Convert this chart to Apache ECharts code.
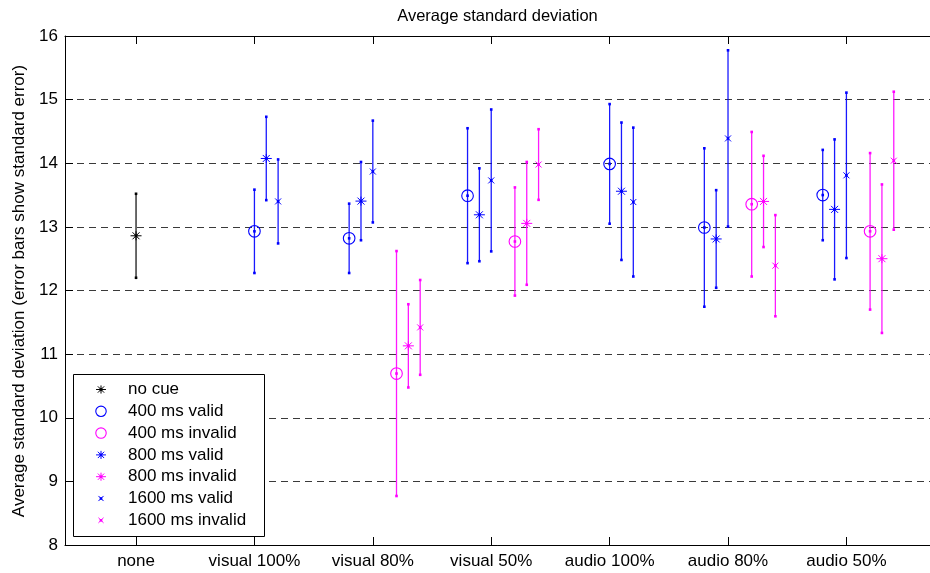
<!DOCTYPE html>
<html>
<head>
<meta charset="utf-8">
<script src="https://cdn.jsdelivr.net/npm/echarts@6/dist/echarts.min.js"></script>
<style>
  html, body { margin: 0; padding: 0; background: #ffffff; }
  #chart { width: 930px; height: 573px; }
</style>
</head>
<body>
<div id="chart"></div>
<script>
// Conditions along the x axis
const categories = ['none', 'visual 100%', 'visual 80%', 'visual 50%', 'audio 100%', 'audio 80%', 'audio 50%'];
const yTicks = [8, 9, 10, 11, 12, 13, 14, 15, 16];

// Mean of the standard deviation per condition, with its standard error
const noCueMean       = [12.86, null, null, null, null, null, null];
const noCueSE         = [0.66, null, null, null, null, null, null];

const valid400Mean    = [null, 12.93, 12.82, 13.49, 13.99, 12.99, 13.50];
const valid400SE      = [null, 0.655, 0.545, 1.06, 0.94, 1.245, 0.71];
const valid800Mean    = [null, 14.075, 13.405, 13.19, 13.56, 12.81, 13.275];
const valid800SE      = [null, 0.655, 0.615, 0.73, 1.08, 0.767, 1.10];
const valid1600Mean   = [null, 13.40, 13.87, 13.73, 13.39, 14.39, 13.81];
const valid1600SE     = [null, 0.66, 0.80, 1.115, 1.17, 1.385, 1.30];

const invalid400Mean  = [null, null, 10.695, 12.77, null, 13.356, 12.93];
const invalid400SE    = [null, null, 1.925, 0.85, null, 1.136, 1.23];
const invalid800Mean  = [null, null, 11.13, 13.055, null, 13.40, 12.50];
const invalid800SE    = [null, null, 0.654, 0.965, null, 0.717, 1.167];
const invalid1600Mean = [null, null, 11.42, 13.98, null, 12.39, 14.04];
const invalid1600SE   = [null, null, 0.745, 0.555, null, 0.795, 1.084];

const BLUE = '#0000ff', MAGENTA = '#ff00ff', BLACK = '#000000';
const FONT = '"Liberation Sans", Arial, Helvetica, sans-serif';
const FONT_SIZE = 17;

// Groups of markers are spread around each category position;
// when a category has no invalid trials the valid group shifts right.
const hasInvalid = categories.map((_, i) => invalid400Mean[i] != null);
function validShift(base) { return i => base + (hasInvalid[i] ? 0 : 0.2); }
function fixedShift(base) { return () => base; }

function markerShapes(shape, x, y, color, scale, z) {
  const k = scale || 1;
  const ln = (x1, y1, x2, y2) => ({
    type: 'line', z: z,
    shape: { x1: x + x1 * k, y1: y + y1 * k, x2: x + x2 * k, y2: y + y2 * k },
    style: { stroke: color, lineWidth: 1 }
  });
  if (shape === 'circle') {
    return [{ type: 'circle', z: z, shape: { cx: x, cy: y, r: 5.8 * k },
      style: { fill: null, stroke: color, lineWidth: 1.1 } }];
  }
  if (shape === 'star') {
    return [ln(-5.5, 0, 5.5, 0), ln(0, -4.5, 0, 4.5), ln(-3.5, -3.5, 3.5, 3.5), ln(-3.5, 3.5, 3.5, -3.5)];
  }
  // cross
  return [ln(-3, -3, 3, 3), ln(-3, 3, 3, -3)];
}

function dot(p, color, z) {
  return { type: 'rect', z: z, shape: { x: p[0] - 1.3, y: p[1] - 1.3, width: 2.6, height: 2.6 }, style: { fill: color } };
}

function makeSeries(name, means, ses, shape, color, shift) {
  const data = [];
  means.forEach((m, i) => {
    if (m == null) return;
    data.push([i + 1 + shift(i), m, ses[i]]);
  });
  return {
    type: 'custom',
    name: name,
    data: data,
    encode: { x: 0, y: 1 },
    clip: false,
    renderItem: function (params, api) {
      const x = api.value(0), m = api.value(1), s = api.value(2);
      const c = api.coord([x, m]);
      const t = api.coord([x, m + s]);
      const b = api.coord([x, m - s]);
      const children = [
        { type: 'line', shape: { x1: c[0], y1: t[1], x2: c[0], y2: b[1] },
          style: { stroke: color, lineWidth: 1.3, opacity: 0.9 } },
        dot(t, color), dot(b, color), dot(c, color)
      ].concat(markerShapes(shape, c[0], c[1], color));
      return { type: 'group', children: children };
    }
  };
}

const seriesDefs = [
  ['no cue',           noCueMean,       noCueSE,       'star',   BLACK,   fixedShift(0)],
  ['400 ms valid',     valid400Mean,    valid400SE,    'circle', BLUE,    validShift(-0.2)],
  ['400 ms invalid',   invalid400Mean,  invalid400SE,  'circle', MAGENTA, fixedShift(0.2)],
  ['800 ms valid',     valid800Mean,    valid800SE,    'star',   BLUE,    validShift(-0.1)],
  ['800 ms invalid',   invalid800Mean,  invalid800SE,  'star',   MAGENTA, fixedShift(0.3)],
  ['1600 ms valid',    valid1600Mean,   valid1600SE,   'cross',  BLUE,    validShift(0)],
  ['1600 ms invalid',  invalid1600Mean, invalid1600SE, 'cross',  MAGENTA, fixedShift(0.4)]
];

const series = seriesDefs.map(d => makeSeries(d[0], d[1], d[2], d[3], d[4], d[5]));

// Legend box drawn in the lower left corner of the axes
const legendX = 73, legendY = 374, legendW = 191, legendH = 162;
const legendElems = [{
  type: 'rect', shape: { x: legendX + 0.5, y: legendY + 0.5, width: legendW, height: legendH },
  style: { fill: '#ffffff', stroke: '#000000', lineWidth: 1 }, z: 100
}];
seriesDefs.forEach((d, i) => {
  const cy = legendY + 15.5 + i * 21.8;
  const cx = 101;
  const scale = d[3] === 'cross' ? 0.85 : 0.9;
  markerShapes(d[3], cx, cy, d[4], scale, 101).forEach(el => legendElems.push(el));
  if (d[3] !== 'circle') legendElems.push(dot([cx, cy], d[4], 101));
  legendElems.push({
    type: 'text', z: 101, x: 128, y: cy,
    style: { text: d[0], fill: '#000000', font: FONT_SIZE + 'px ' + FONT,
      textVerticalAlign: 'middle', textAlign: 'left' }
  });
});

const tickValues = categories.map((_, i) => i + 1);

const option = {
  animation: false,
  backgroundColor: '#ffffff',
  grid: { left: 65, right: 0, top: 36, bottom: 28, containLabel: false },
  xAxis: [{
    type: 'value', min: 0.4, max: 7.706, position: 'bottom',
    axisLine: { show: true, onZero: false, lineStyle: { color: '#000', width: 1 } },
    axisTick: { show: true, inside: true, length: 8, customValues: tickValues, lineStyle: { color: '#000' } },
    axisLabel: {
      show: true, customValues: tickValues, margin: 8,
      color: '#000', fontSize: FONT_SIZE, fontFamily: FONT,
      formatter: v => categories[Math.round(v) - 1]
    },
    splitLine: { show: false }
  }, {
    type: 'value', min: 0.4, max: 7.706, position: 'top',
    axisLine: { show: true, onZero: false, lineStyle: { color: '#000', width: 1 } },
    axisTick: { show: true, inside: true, length: 8, customValues: tickValues, lineStyle: { color: '#000' } },
    axisLabel: { show: false },
    splitLine: { show: false }
  }],
  yAxis: {
    type: 'value', min: yTicks[0], max: yTicks[yTicks.length - 1], interval: 1,
    axisLine: { show: true, onZero: false, lineStyle: { color: '#000', width: 1 } },
    axisTick: { show: true, inside: true, length: 8, lineStyle: { color: '#000' } },
    axisLabel: { color: '#000', fontSize: FONT_SIZE, fontFamily: FONT, margin: 7 },
    splitLine: { show: true, lineStyle: { color: '#3a3a3a', width: 1, type: [7, 5] } }
  },
  graphic: [{
    type: 'text', x: 497.5, y: 16,
    style: { text: 'Average standard deviation', fill: '#000', font: '16.5px ' + FONT,
      textAlign: 'center', textVerticalAlign: 'middle' }
  }, {
    type: 'text', x: 19, y: 291, rotation: Math.PI / 2,
    style: { text: 'Average standard deviation (error bars show standard error)', fill: '#000',
      font: FONT_SIZE + 'px ' + FONT, textAlign: 'center', textVerticalAlign: 'middle' }
  }].concat(legendElems),
  series: series
};

const chart = echarts.init(document.getElementById('chart'));
chart.setOption(option);
</script>
</body>
</html>
